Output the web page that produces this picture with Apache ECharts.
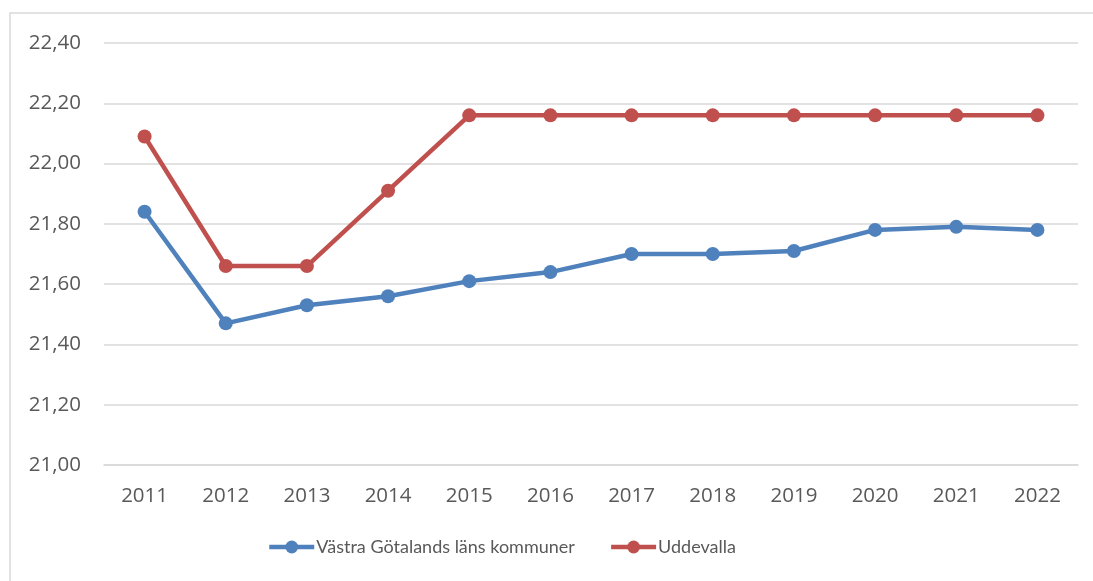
<!DOCTYPE html>
<html>
<head>
<meta charset="utf-8">
<script src="https://cdn.jsdelivr.net/npm/echarts@6.0.0/dist/echarts.min.js"></script>
<style>
  html, body { margin: 0; padding: 0; background: #fff; }
  #chart { width: 1093px; height: 581px; }
</style>
</head>
<body>
<div id="chart"></div>
<script>
const years = ['2011', '2012', '2013', '2014', '2015', '2016', '2017', '2018', '2019', '2020', '2021', '2022'];
const vastraGotaland = [21.84, 21.47, 21.53, 21.56, 21.61, 21.64, 21.70, 21.70, 21.71, 21.78, 21.79, 21.78];
const uddevalla = [22.09, 21.66, 21.66, 21.91, 22.16, 22.16, 22.16, 22.16, 22.16, 22.16, 22.16, 22.16];

const font = 'Open Sans';
const textColor = '#595959';
const gridColor = '#d9d9d9';

const lineSeries = (name, data, color) => ({
  name: name,
  type: 'line',
  data: data,
  symbol: 'circle',
  symbolSize: 14,
  lineStyle: { width: 4.5, color: color },
  itemStyle: { color: color },
  animation: false
});

const chart = echarts.init(document.getElementById('chart'));
chart.setOption({
  animation: false,
  graphic: [{
    type: 'rect',
    shape: { x: 10, y: 13, width: 1200, height: 700 },
    style: { fill: 'none', stroke: gridColor, lineWidth: 1.5 },
    silent: true
  }],
  grid: { left: 104, right: 15, top: 43, bottom: 116 },
  legend: {
    bottom: 20,
    left: 262,
    itemWidth: 45,
    itemHeight: 16,
    itemGap: 34,
    lineStyle: { width: 4.5 },
    textStyle: { fontFamily: 'Lato', fontSize: 18, color: textColor, padding: [0, 0, 0, -3] },
    data: ['Västra Götalands läns kommuner', 'Uddevalla']
  },
  xAxis: {
    type: 'category',
    data: years,
    boundaryGap: true,
    axisLine: { show: true, lineStyle: { color: gridColor, width: 1.5 } },
    axisTick: { show: false },
    axisLabel: { fontFamily: font, fontSize: 20.5, color: textColor, margin: 21 }
  },
  yAxis: {
    type: 'value',
    min: 21,
    max: 22.4,
    interval: 0.2,
    axisLine: { show: false },
    axisTick: { show: false },
    splitLine: { lineStyle: { color: gridColor, width: 1.5 } },
    axisLabel: {
      fontFamily: font, fontSize: 20.5, color: textColor, margin: 23,
      formatter: (v) => v.toFixed(2).replace('.', ',')
    }
  },
  series: [
    lineSeries('Västra Götalands läns kommuner', vastraGotaland, '#4f81bd'),
    lineSeries('Uddevalla', uddevalla, '#c0504d')
  ]
});
</script>
</body>
</html>
